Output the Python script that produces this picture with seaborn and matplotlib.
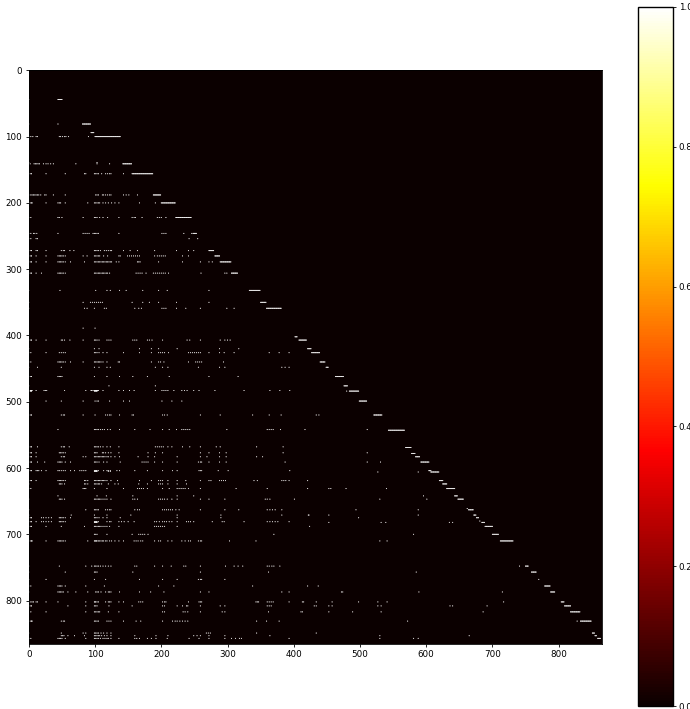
import numpy as np
import matplotlib
matplotlib.use('Agg')
import matplotlib.pyplot as plt
import seaborn as sns

# matrix size and tick labels
n_cells = 866
axis_ticks = [0, 100, 200, 300, 400, 500, 600, 700, 800]
cbar_ticks = [0.0, 0.2, 0.4, 0.6, 0.8, 1.0]

# solid runs close to the diagonal (row, first column, last column)
run_rows = [44, 81, 94, 100, 141, 156, 188, 200, 222, 246, 272, 280, 289, 306, 332, 350, 359,
            402, 407, 420, 426, 440, 448, 462, 476, 484, 499, 520, 543, 569, 578, 583, 591,
            604, 606, 619, 624, 631, 642, 647, 663, 671, 675, 682, 688, 700, 710, 748, 757,
            778, 787, 802, 808, 817, 831, 849, 853, 857]
run_first = [44, 81, 94, 100, 142, 156, 188, 200, 222, 248, 272, 281, 289, 306, 333, 350, 359,
             402, 408, 421, 427, 440, 449, 463, 476, 484, 499, 521, 543, 569, 578, 584, 592,
             604, 607, 620, 625, 631, 643, 648, 664, 672, 676, 684, 689, 700, 712, 750, 759,
             779, 788, 804, 809, 818, 833, 851, 855, 859]
run_last = [50, 93, 98, 138, 155, 187, 199, 221, 245, 253, 279, 288, 305, 315, 349, 358, 381,
            405, 419, 426, 439, 447, 452, 475, 481, 498, 510, 533, 567, 577, 583, 590, 604,
            607, 619, 625, 631, 643, 647, 656, 671, 675, 679, 688, 700, 709, 731, 754, 766,
            787, 794, 808, 818, 832, 849, 854, 857, 863]

# scattered entries, one list per row
dot_rows = [44, 81, 100, 139, 141, 156, 188, 200, 222, 246, 254, 272, 280, 289, 306, 332, 350, 359,
            389, 407, 420, 426, 440, 448, 462, 476, 483, 484, 499, 520, 542, 568, 577, 583, 591,
            604, 605, 606, 619, 624, 631, 642, 647, 661, 663, 671, 675, 680, 681, 682, 688, 700,
            710, 748, 757, 768, 778, 787, 802, 808, 817, 831, 849, 853, 857]
dot_cols = [
    [1],
    [1, 44],
    [1, 3, 6, 11, 13, 46, 48, 51, 54, 56, 60, 90],
    [1, 103],
    [1, 2, 8, 10, 12, 14, 16, 22, 26, 29, 33, 37, 71, 103, 122],
    [1, 3, 4, 26, 55, 84, 86, 99, 101, 103, 105, 110, 116, 119, 122, 124, 143],
    [1, 3, 5, 7, 9, 11, 13, 15, 18, 24, 26, 37, 55, 101, 103, 105, 111, 113, 116, 119, 122, 124, 143, 147, 151, 164],
    [1, 2, 4, 5, 26, 44, 46, 48, 55, 89, 99, 101, 103, 105, 107, 112, 116, 120, 125, 130, 136, 167, 191],
    [1, 3, 44, 46, 50, 82, 99, 101, 103, 107, 112, 119, 136, 156, 159, 161, 171, 194, 197, 200, 207],
    [1, 3, 7, 9, 12, 44, 82, 85, 88, 91, 97, 99, 101, 103, 105, 136, 201, 204, 207, 234, 246],
    [1, 3, 11, 13, 242, 255],
    [1, 3, 4, 11, 13, 26, 49, 52, 54, 62, 68, 99, 101, 103, 105, 108, 114, 117, 120, 123, 125, 143, 153, 164, 190, 223, 241, 249],
    [1, 3, 4, 11, 26, 44, 46, 48, 50, 52, 55, 82, 88, 99, 101, 103, 105, 107, 113, 119, 136, 138, 149, 152, 155, 158, 161, 164, 167, 190, 194, 197, 200, 203, 206, 232, 241],
    [1, 3, 4, 11, 26, 44, 46, 48, 50, 52, 55, 63, 84, 99, 101, 103, 105, 107, 109, 111, 113, 115, 117, 119, 121, 123, 125, 132, 136, 164, 166, 168, 196, 232, 259, 272, 277],
    [1, 3, 4, 11, 19, 44, 46, 48, 50, 52, 55, 99, 101, 103, 105, 107, 109, 111, 113, 115, 117, 119, 122, 162, 165, 168, 171, 177, 188, 191, 194, 197, 200, 203, 206, 211, 260, 296, 299],
    [1, 47, 101, 118, 123, 137, 147, 172, 196, 209, 272],
    [1, 82, 93, 96, 99, 102, 105, 108, 111, 156, 172, 182, 196, 223, 272],
    [1, 84, 88, 99, 114, 117, 160, 166, 170, 201, 204, 207, 223, 237, 259, 299, 310],
    [82, 100],
    [1, 3, 4, 11, 26, 49, 51, 54, 62, 82, 99, 101, 103, 106, 118, 121, 124, 157, 160, 163, 179, 182, 186, 202, 239, 243, 259, 289, 296, 300, 304],
    [1, 99, 106, 167, 185, 196, 224, 288, 317],
    [1, 3, 26, 46, 49, 52, 55, 99, 101, 103, 106, 112, 118, 143, 167, 185, 196, 199, 202, 205, 211, 241, 244, 247, 250, 253, 256, 259, 272, 288, 295, 310, 363, 378, 393],
    [1, 3, 44, 46, 48, 50, 52, 55, 63, 82, 99, 101, 103, 105, 107, 109, 112, 118, 135, 137, 185, 196, 199, 204, 241, 252, 255, 258, 261, 294],
    [1, 13, 49, 99, 106, 118, 123, 191, 202, 210, 256, 288, 296, 382, 387, 393],
    [1, 3, 4, 44, 46, 48, 50, 99, 118, 137, 157, 179, 212, 272, 316],
    [1, 121, 191],
    [1, 2, 3, 4, 5, 11, 23, 25, 27, 54, 86, 94, 95, 97, 99, 100, 101, 102, 103, 104, 105, 112, 136, 143, 152, 159, 191, 201, 204, 207, 210, 219, 231, 235, 239, 249, 257, 281, 325, 364, 379, 394],
    [1, 2, 3, 4, 99, 100, 101, 102, 103, 480],
    [1, 26, 49, 82, 100, 103, 105, 122, 143, 152, 201, 216, 231],
    [1, 3, 4, 49, 52, 54, 82, 100, 116, 119, 122, 124, 137, 156, 158, 202, 205, 209, 259, 289, 338, 363, 381, 434, 438],
    [44, 99, 101, 103, 105, 108, 111, 114, 119, 123, 137, 160, 183, 202, 212, 223, 231, 234, 237, 240, 243, 299, 360, 363, 366, 369, 380, 417, 511],
    [1, 3, 4, 13, 49, 52, 54, 61, 99, 101, 103, 105, 108, 112, 118, 123, 136, 191, 194, 197, 200, 203, 210, 216, 232, 243, 259, 283, 289, 344, 384],
    [1, 3, 4, 11, 46, 48, 50, 52, 55, 99, 101, 103, 111, 113, 116, 120, 124, 136, 180, 191, 202, 259, 272, 288, 298, 384, 511],
    [1, 3, 4, 11, 49, 52, 54, 82, 86, 99, 101, 103, 105, 107, 109, 111, 113, 115, 118, 120, 124, 130, 137, 165, 180, 190, 224, 259, 269, 288, 298, 344, 353],
    [1, 3, 4, 13, 24, 44, 46, 48, 50, 55, 63, 99, 101, 103, 106, 113, 118, 138, 171, 174, 177, 180, 190, 202, 224, 256, 259, 261, 272, 288, 298, 387, 511, 531],
    [1, 3, 4, 11, 13, 15, 19, 26, 44, 46, 49, 52, 55, 63, 69, 77, 80, 83, 86, 99, 100, 101, 102, 103, 105, 113, 118, 120, 123, 133, 137, 160, 179, 202, 217, 224, 257, 259, 261, 286, 301, 394],
    [99, 100, 101, 102, 103, 120, 123],
    [527, 588],
    [1, 3, 4, 11, 44, 46, 48, 50, 52, 55, 84, 86, 89, 99, 101, 103, 105, 107, 109, 111, 113, 115, 118, 124, 134, 167, 185, 196, 199, 202, 210, 224, 237, 259, 272, 275, 288, 291, 294, 297, 340, 345, 382, 385, 388, 393, 421],
    [1, 46, 48, 50, 54, 84, 86, 89, 99, 101, 103, 105, 107, 110, 120, 130, 135, 166, 179, 196, 199, 202, 210, 224, 238],
    [1, 3, 82, 84, 86, 99, 118, 143, 164, 167, 170, 173, 179, 202, 212, 224, 227, 230, 233, 236, 241, 259, 313, 360, 421, 453, 456, 479, 540],
    [44, 103, 117, 157, 224, 249, 596],
    [1, 46, 48, 50, 54, 99, 101, 103, 105, 107, 109, 112, 115, 118, 124, 157, 160, 164, 196, 199, 202, 205, 209, 216, 224, 259, 272, 296, 357, 360, 364, 401, 530, 601],
    [662],
    [1, 86, 99, 101, 103, 105, 116, 119, 122, 124, 160, 164, 167, 202, 205, 208, 211, 214, 217, 222, 227, 259, 296, 317, 360, 364, 368, 372, 382, 494, 588],
    [1, 64, 99, 118, 154, 224, 290, 382, 422, 423, 453, 588],
    [1, 3, 4, 19, 22, 26, 30, 34, 46, 48, 50, 52, 55, 63, 99, 101, 103, 106, 112, 118, 138, 224, 290, 498],
    [681],
    [1, 3, 4, 11, 19, 22, 26, 30, 34, 46, 48, 50, 52, 55, 99, 100, 101, 102, 103, 105, 118, 122, 124, 136, 140, 144, 150, 159, 190, 193, 197, 202, 205, 208, 212, 216, 224, 238, 241, 244, 249, 277, 292, 295, 325, 360, 364, 368, 372, 376, 393],
    [99, 100, 101, 102, 103, 453, 532, 539, 635, 640],
    [1, 3, 4, 26, 49, 84, 99, 101, 103, 105, 107, 109, 112, 115, 118, 122, 136, 190, 193, 196, 199, 202, 205, 224, 424],
    [1, 99, 101, 103, 118, 156, 166, 169, 172, 175, 180, 370, 581],
    [1, 3, 4, 5, 26, 44, 46, 48, 50, 52, 55, 89, 99, 100, 101, 102, 103, 105, 107, 109, 111, 113, 116, 118, 122, 125, 130, 136, 143, 159, 162, 165, 169, 172, 190, 196, 199, 210, 216, 231, 236, 241, 244, 256, 259, 261, 303, 343, 530, 541],
    [1, 46, 86, 95, 99, 101, 103, 105, 108, 112, 116, 120, 124, 160, 163, 190, 202, 215, 234, 237, 259, 297, 310, 316, 323, 360, 363, 367, 370, 379, 741],
    [1, 55, 99, 101, 103, 157, 259, 362, 585],
    [1, 26, 99, 116, 167, 202, 224, 256, 259, 261, 296, 770],
    [1, 3, 44, 46, 48, 50, 55, 86, 114, 196, 219, 338, 421, 437],
    [1, 44, 46, 48, 50, 52, 59, 71, 89, 101, 103, 105, 109, 116, 120, 122, 124, 137, 167, 184, 204, 259, 272, 382, 393, 472, 474, 589, 715],
    [1, 3, 5, 7, 11, 13, 26, 44, 86, 99, 100, 101, 103, 105, 116, 120, 122, 124, 136, 143, 166, 169, 172, 202, 205, 207, 241, 257, 259, 261, 343, 345, 347, 360, 363, 366, 369, 393, 413, 415, 434, 458, 498, 527, 541, 717],
    [1, 3, 4, 59, 86, 99, 101, 103, 121, 156, 202, 205, 224, 232, 238, 240, 259, 289, 296, 360, 363, 366, 431, 434, 453, 458, 527, 532, 636, 640, 692],
    [3, 26, 86, 99, 101, 103, 105, 107, 120, 136, 202, 205, 233, 236, 240, 259, 292, 296, 362, 411, 413, 453, 489, 532, 686],
    [1, 3, 4, 5, 49, 52, 54, 99, 101, 103, 105, 118, 121, 124, 143, 162, 169, 202, 217, 221, 224, 228, 232, 236, 240, 344, 359, 378, 572, 828],
    [1, 49, 82, 86, 99, 101, 103, 105, 109, 113, 118, 124, 268, 271, 274, 344, 434],
    [49, 51, 53, 59, 69, 84, 99, 101, 103, 105, 107, 110, 114, 118, 124, 160, 192, 210, 249, 254, 259, 272, 296, 364, 530, 665],
    [1, 3, 44, 46, 48, 50, 55, 86, 99, 101, 103, 105, 108, 112, 115, 118, 120, 124, 136, 160, 163, 167, 179, 185, 192, 209, 242, 257, 272, 296, 306, 312, 318, 321, 393, 530, 581, 588],
]

# Fill the matrix
matrix = np.zeros((n_cells, n_cells))
for row, cols in zip(dot_rows, dot_cols):
    matrix[row, cols] = 1.0
for row, first, last in zip(run_rows, run_first, run_last):
    matrix[row, first:last + 1] = 1.0

fig = plt.figure(figsize=(6.9, 7.09), dpi=100)
ax = fig.add_axes([28.5 / 690, 1 - 644 / 709, 573.5 / 690, 574 / 709])
cax = fig.add_axes([637.5 / 690, 1 - 706 / 709, 35 / 690, 699 / 709])

# zero cells stay masked so the sub-pixel entries blend to grey on the dark background
ax.set_facecolor(plt.get_cmap('hot')(0.0))
sns.heatmap(matrix, mask=matrix == 0, cmap='hot', vmin=0, vmax=1, ax=ax, cbar_ax=cax,
            xticklabels=False, yticklabels=False, antialiased=True,
            linewidths=0.2, linecolor='face',
            cbar_kws={'ticks': cbar_ticks, 'format': '%.1f'})
# cells are under one pixel tall, snapping would drop whole rows
ax.collections[0].set_snap(False)

ax.set_xticks(np.array(axis_ticks) + 0.5, axis_ticks, rotation=0)
ax.set_yticks(np.array(axis_ticks) + 0.5, axis_ticks, rotation=0)
ax.tick_params(labelsize=6.3, length=2.5, width=0.6, pad=2)
for side in ax.spines.values():
    side.set_visible(True)
    side.set_linewidth(0.6)

cbar = ax.collections[0].colorbar
cbar.outline.set_visible(True)
cbar.outline.set_linewidth(1.0)
cbar.outline.set_edgecolor('black')
cax.tick_params(labelsize=6.3, length=2.5, width=0.6, pad=2)

fig.savefig('out.png', dpi=100)
